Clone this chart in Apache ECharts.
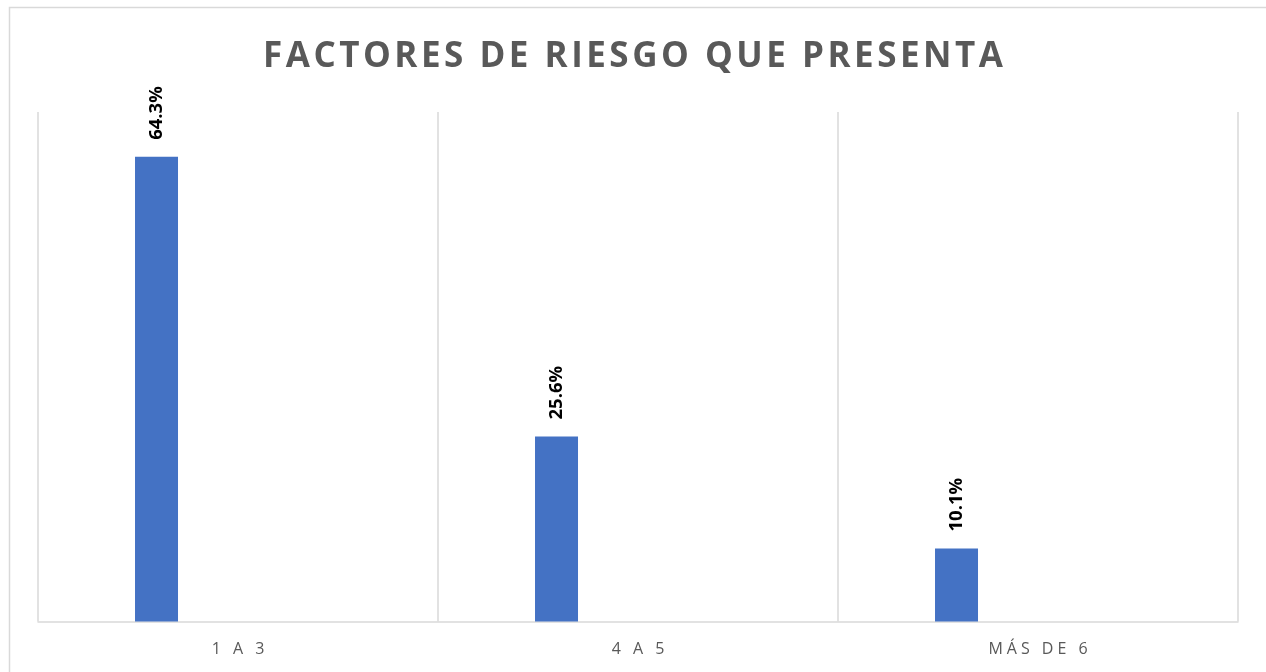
<!DOCTYPE html>
<html>
<head>
<meta charset="utf-8">
<script src="https://cdn.jsdelivr.net/npm/echarts@6/dist/echarts.min.js"></script>
<style>
html,body{margin:0;padding:0;background:#fff;}
#chart{width:1266px;height:672px;}
</style>
</head>
<body>
<div id="chart"></div>
<script>
const titleText = 'FACTORES DE RIESGO QUE PRESENTA';
const categories = ['1 A 3', '4 A 5', 'MÁS DE 6'];
const values = [64.3, 25.6, 10.1];
const emptySeries = [null, null, null];

const spread = (s, sp) => Array.from(s).join(sp);

const chart = echarts.init(document.getElementById('chart'), null, {renderer: 'canvas'});
chart.setOption({
  backgroundColor: '#ffffff',
  animation: false,
  title: {
    text: spread(titleText, '\u200A'),
    left: 'center',
    top: 35,
    textStyle: {
      fontFamily: 'Open Sans',
      fontWeight: 'bold',
      fontSize: 35,
      color: '#595959'
    }
  },
  graphic: [{
    type: 'rect',
    shape: {x: 9.5, y: 7.5, width: 1300, height: 700},
    style: {fill: 'none', stroke: '#d9d9d9', lineWidth: 1.5},
    silent: true,
    z: -1
  }],
  grid: {left: 38, right: 28, top: 112, bottom: 50.5},
  xAxis: {
    type: 'category',
    data: categories,
    boundaryGap: true,
    axisLine: {show: true, lineStyle: {color: '#d9d9d9', width: 1.5}},
    axisTick: {show: false},
    splitLine: {show: true, lineStyle: {color: '#d9d9d9', width: 1.5}},
    axisLabel: {
      margin: 20,
      fontFamily: 'Open Sans',
      fontSize: 16,
      color: '#595959',
      formatter: v => spread(v, '\u2005')
    }
  },
  yAxis: {
    type: 'value',
    min: 0,
    max: 70.5,
    show: false,
    splitLine: {show: false}
  },
  series: [{
    type: 'bar',
    data: values,
    barWidth: 43,
    barGap: '279%',
    itemStyle: {color: '#4472C4'},
    label: {
      show: true,
      position: 'top',
      rotate: 90,
      align: 'left',
      verticalAlign: 'middle',
      distance: 17,
      formatter: p => p.value.toFixed(1) + '%',
      fontFamily: 'Open Sans',
      fontWeight: 'bold',
      fontSize: 18.5,
      color: '#000000'
    }
  }, {
    type: 'bar',
    data: emptySeries,
    barWidth: 43,
    itemStyle: {color: '#ED7D31'}
  }]
});
</script>
</body>
</html>
